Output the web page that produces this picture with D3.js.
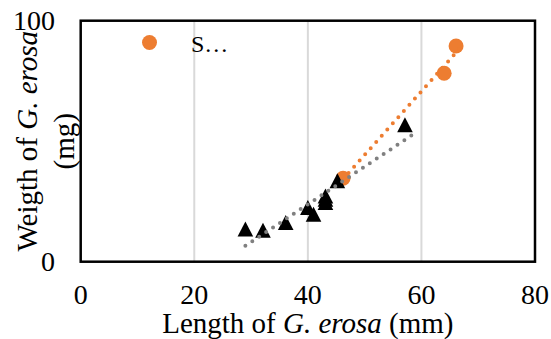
<!DOCTYPE html>
<html>
<head>
<meta charset="utf-8">
<script src="https://cdn.jsdelivr.net/npm/d3@7"></script>
<style>
  body { margin: 0; background: #fff; }
  svg { display: block; }
  text { font-family: "Liberation Serif", "Times New Roman", serif; fill: #000; }
</style>
</head>
<body>
<script>
// orange circles series
const circleX = [46.2, 64.0, 66.1];
const circleY = [34.6, 78.2, 89.5];
// black triangles series
const triX = [29.0, 32.1, 36.1, 40.0, 41.0, 43.1, 43.1, 43.1, 45.2, 57.1];
const triY = [13.6, 13.0, 16.3, 22.5, 19.7, 27.3, 25.9, 24.6, 33.6, 56.8];
// axes
const xTicks = [0, 20, 40, 60, 80];
const yTicks = [0, 100];
const legendLabel = 'S…';

const width = 551, height = 339;
const margin = {left: 80.7, right: 16, top: 20.7, bottom: 77.3};

const svg = d3.select('body')
              .append('svg')
              .attr('width', width)
              .attr('height', height);

const xscale = d3.scaleLinear()
                .domain([0, 80])
                .range([margin.left, width - margin.right]);

const yscale = d3.scaleLinear()
                .domain([0, 100])
                .range([height - margin.bottom, margin.top]);

// vertical gridlines
svg.append('g')
  .selectAll('line')
  .data(xTicks.slice(1, -1))
  .enter().append('line')
  .attr('x1', d => xscale(d)).attr('x2', d => xscale(d))
  .attr('y1', yscale(0)).attr('y2', yscale(100))
  .attr('stroke', '#d9d9d9')
  .attr('stroke-width', 2);

// plot border
svg.append('rect')
  .attr('x', xscale(0)).attr('y', yscale(100))
  .attr('width', xscale(80) - xscale(0))
  .attr('height', yscale(0) - yscale(100))
  .attr('fill', 'none')
  .attr('stroke', '#000')
  .attr('stroke-width', 2.5);

// tick labels
svg.append('g')
  .selectAll('text')
  .data(xTicks)
  .enter().append('text')
  .attr('x', d => xscale(d))
  .attr('y', 304)
  .attr('text-anchor', 'middle')
  .attr('font-size', 28)
  .text(d => d);

svg.append('g')
  .selectAll('text')
  .data(yTicks)
  .enter().append('text')
  .attr('x', 55)
  .attr('y', d => yscale(d) + 9.5)
  .attr('text-anchor', 'end')
  .attr('font-size', 28)
  .text(d => d);

// axis titles
const xt = svg.append('text')
  .attr('x', (xscale(0) + xscale(80)) / 2)
  .attr('y', 333)
  .attr('text-anchor', 'middle')
  .attr('font-size', 29);
xt.append('tspan').text('Length of ');
xt.append('tspan').attr('font-style', 'italic').text('G. erosa');
xt.append('tspan').text(' (mm)');

const ymid = (yscale(0) + yscale(100)) / 2;
const yt1 = svg.append('text')
  .attr('transform', `translate(37,${ymid}) rotate(-90)`)
  .attr('text-anchor', 'middle')
  .attr('font-size', 29);
yt1.append('tspan').text('Weigth of ');
yt1.append('tspan').attr('font-style', 'italic').text('G. erosa');

svg.append('text')
  .attr('transform', `translate(74,${ymid}) rotate(-90)`)
  .attr('text-anchor', 'middle')
  .attr('font-size', 29)
  .text('(mg)');

// markers
const circles = circleX.map((x, i) => [x, circleY[i]]);
const tris = triX.map((x, i) => [x, triY[i]]);

svg.append('g')
  .selectAll('circle')
  .data(circles)
  .enter().append('circle')
  .attr('cx', d => xscale(d[0]))
  .attr('cy', d => yscale(d[1]))
  .attr('r', 7.5)
  .attr('fill', '#ed7d31');

const triPath = (cx, cy) => {
  const p = d3.path();
  p.moveTo(cx, cy - 7.5);
  p.lineTo(cx + 7.8, cy + 7.5);
  p.lineTo(cx - 7.8, cy + 7.5);
  p.closePath();
  return p.toString();
};

svg.append('g')
  .selectAll('path')
  .data(tris)
  .enter().append('path')
  .attr('d', d => triPath(xscale(d[0]), yscale(d[1])))
  .attr('fill', '#000');

// linear trendlines (least squares), drawn a little past the last point
const fit = pts => {
  const mx = d3.mean(pts, d => d[0]), my = d3.mean(pts, d => d[1]);
  const sxy = d3.sum(pts, d => (d[0] - mx) * (d[1] - my));
  const sxx = d3.sum(pts, d => (d[0] - mx) ** 2);
  const slope = sxy / sxx;
  return x => my + slope * (x - mx);
};

const trend = (pts, color) => {
  const f = fit(pts);
  const [x0, x1] = d3.extent(pts, d => d[0]);
  const ends = [x0, x1 + 1.5];
  svg.append('path')
    .attr('d', d3.line().x(d => xscale(d)).y(d => yscale(f(d)))(ends))
    .attr('fill', 'none')
    .attr('stroke', color)
    .attr('stroke-width', 4)
    .attr('stroke-linecap', 'round')
    .attr('stroke-dasharray', '0 8.3');
};

trend(circles, '#ed7d31');
trend(tris, '#808080');

// legend
svg.append('circle')
  .attr('cx', 149.5).attr('cy', 42.5)
  .attr('r', 7.5)
  .attr('fill', '#ed7d31');

svg.append('text')
  .attr('x', 191).attr('y', 52)
  .attr('font-size', 24)
  .text(legendLabel);
</script>
</body>
</html>
